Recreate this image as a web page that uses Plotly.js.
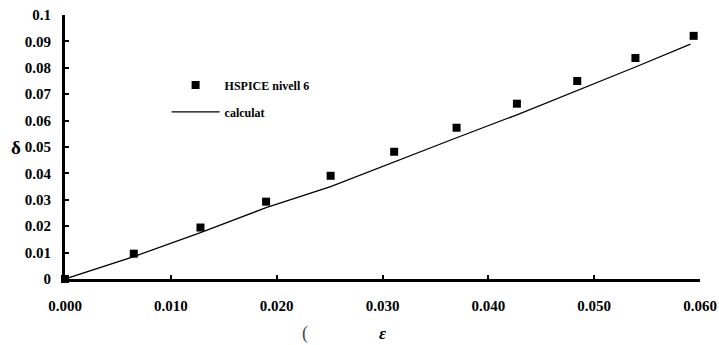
<!DOCTYPE html>
<html>
<head>
<meta charset="utf-8">
<script src="https://cdn.plot.ly/plotly-3.0.1.min.js"></script>
<style>html,body{margin:0;padding:0;background:#fff;}#chart{width:719px;height:345px;}</style>
</head>
<body>
<div id="chart"></div>
<script>
// Data
const hspiceEps   = [0, 0.0065, 0.0128, 0.0190, 0.0251, 0.0311, 0.0370, 0.0427, 0.0484, 0.0539, 0.0594];
const hspiceDelta = [0, 0.0096, 0.0195, 0.0293, 0.0391, 0.0482, 0.0573, 0.0664, 0.0750, 0.0837, 0.0921];
const calcEps     = [0, 0.0065, 0.0128, 0.0190, 0.0251, 0.0311, 0.0370, 0.0427, 0.0484, 0.0539, 0.0591];
const calcDelta   = [0, 0.0085, 0.0176, 0.0270, 0.0350, 0.0444, 0.0535, 0.0622, 0.0713, 0.0803, 0.0890];
const xTickVals = [0, 0.01, 0.02, 0.03, 0.04, 0.05, 0.06];
const xTickText = ['0.000', '0.010', '0.020', '0.030', '0.040', '0.050', '0.060'];
const yTickVals = [0, 0.01, 0.02, 0.03, 0.04, 0.05, 0.06, 0.07, 0.08, 0.09, 0.1];
const yTickText = ['0', '0.01', '0.02', '0.03', '0.04', '0.05', '0.06', '0.07', '0.08', '0.09', '0.1'];
const seriesNames = ['HSPICE nivell 6', 'calculat'];

const serif = 'Liberation Serif, Times New Roman, serif';

const traces = [
  {
    x: hspiceEps, y: hspiceDelta, name: seriesNames[0], type: 'scatter', mode: 'markers',
    marker: {symbol: 'square', size: 8, color: '#000'}, cliponaxis: false, legendgroup: 'a'
  },
  {
    x: calcEps, y: calcDelta, name: seriesNames[1], type: 'scatter', mode: 'lines',
    line: {color: '#000', width: 1.3}, cliponaxis: false, legendgroup: 'b'
  }
];

const layout = {
  width: 719, height: 345,
  margin: {l: 65, r: 19, t: 15, b: 65.5},
  paper_bgcolor: '#fff', plot_bgcolor: '#fff',
  font: {family: serif, color: '#000'},
  showlegend: true,
  legend: {
    x: 0.160, y: 0.79, xanchor: 'left', yanchor: 'top',
    bgcolor: 'rgba(0,0,0,0)', borderwidth: 0,
    font: {family: serif, size: 12, color: '#000', weight: 'bold'},
    tracegroupgap: 8, traceorder: 'grouped', itemwidth: 48
  },
  xaxis: {
    range: [0, 0.06], showgrid: false, zeroline: false,
    showline: true, linewidth: 2.5, linecolor: '#000',
    ticks: 'inside', ticklen: 4, tickwidth: 2, tickcolor: '#000',
    tickvals: xTickVals, ticktext: xTickText,
    tickfont: {family: serif, size: 15, color: '#000', weight: 'bold'},
    ticklabelstandoff: 11
  },
  yaxis: {
    range: [0, 0.1], showgrid: false, zeroline: false,
    showline: true, linewidth: 3, linecolor: '#000',
    ticks: 'inside', ticklen: 4, tickwidth: 2, tickcolor: '#000',
    tickvals: yTickVals, ticktext: yTickText,
    tickfont: {family: serif, size: 15, color: '#000', weight: 'bold'},
    ticklabelstandoff: 8
  },
  annotations: [
    {text: 'δ', xref: 'paper', yref: 'paper', x: -0.077, y: 0.497, showarrow: false,
     xanchor: 'center', yanchor: 'middle', font: {family: serif, size: 19, color: '#000', weight: 'bold'}},
    {text: '<i>ε</i>', xref: 'paper', yref: 'paper', x: 0.5, y: -0.205, showarrow: false,
     xanchor: 'center', yanchor: 'middle', font: {family: serif, size: 17, color: '#000', weight: 'bold'}},
    {text: '(', xref: 'paper', yref: 'paper', x: 0.378, y: -0.205, showarrow: false,
     xanchor: 'center', yanchor: 'middle', font: {family: serif, size: 18, color: '#444'}}
  ]
};

Plotly.newPlot('chart', traces, layout, {displayModeBar: false, staticPlot: true});
</script>
</body>
</html>
